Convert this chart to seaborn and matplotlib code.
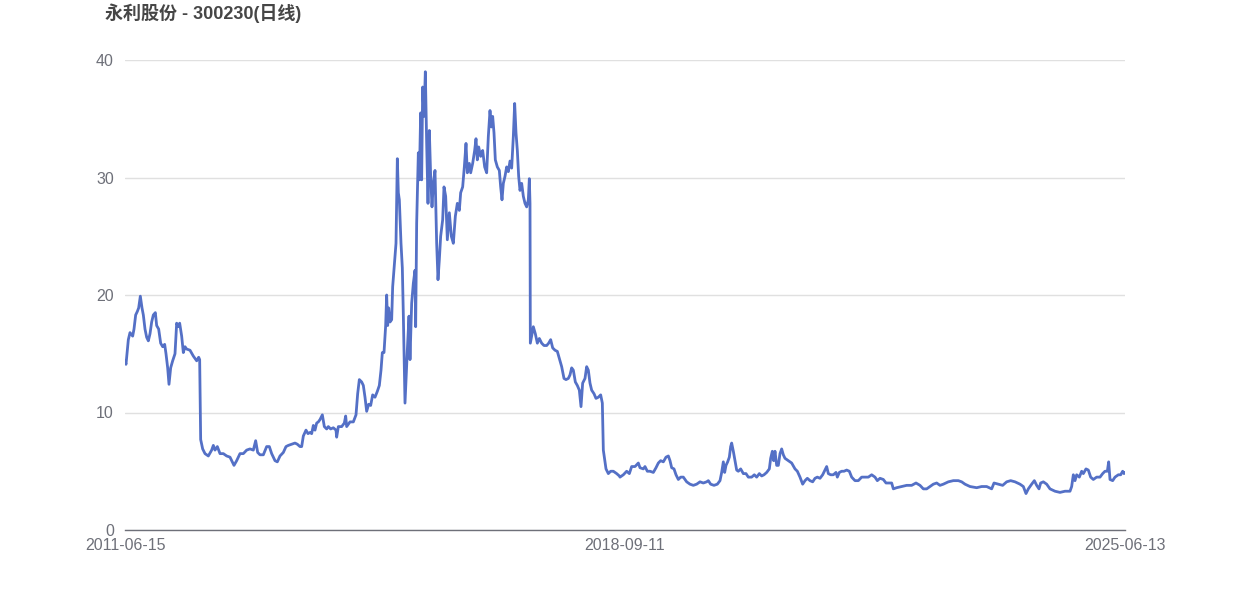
import matplotlib
matplotlib.use("Agg")
import matplotlib.pyplot as plt
import seaborn as sns
import pandas as pd

# ---- data ----
title_text = "永利股份 - 300230(日线)"
tick_labels = ["2011-06-15", "2018-09-11", "2025-06-13"]
total_sessions = 3000

session_idx = [
    0, 3, 10, 15, 23, 27, 32, 37, 41, 46, 51, 55, 60, 65, 70, 75, 80, 85, 91, 95,
    101, 107, 113, 119, 123, 128, 132, 137, 143, 150, 155, 160, 164, 170, 175, 180, 185, 195, 205, 215,
    221, 224, 227, 233, 240, 250, 260, 265, 270, 277, 285, 295, 305, 315, 327, 335, 345, 355, 365, 375,
    385, 392, 398, 405, 415, 425, 433, 440, 450, 457, 465, 475, 483, 490, 500, 510, 517, 525, 530, 535,
    543, 549, 555, 560, 565, 570, 575, 580, 585, 592, 598, 605, 610, 617, 625, 633, 635, 640, 650, 658,
    662, 665, 675, 685, 693, 698, 703, 710, 715, 720, 725, 731, 737, 743, 750, 757, 763, 768, 772, 777,
    782, 785, 788, 791, 795, 800, 803, 808, 813, 817, 820, 823, 828, 832, 835,
    840, 847, 852, 855, 860, 865, 870, 872, 875, 880, 883, 887, 890, 893, 897, 901, 905, 909, 913, 917,
    921, 925, 930, 935, 939, 943, 947, 953, 957, 962, 967, 973, 979, 985, 991, 997, 1003, 1007, 1013, 1018,
    1023, 1027, 1033, 1037, 1043, 1049, 1053, 1057, 1061, 1067, 1073, 1079, 1085, 1090, 1095, 1099, 1103, 1107, 1111, 1117,
    1123, 1127, 1131, 1135, 1140, 1145, 1150, 1155, 1160, 1165, 1169, 1173, 1177, 1181, 1185, 1190, 1195, 1200, 1205, 1210,
    1213, 1215, 1216, 1220, 1225, 1231, 1237, 1243, 1250, 1257, 1265, 1271, 1277, 1283, 1290, 1297, 1303, 1310, 1317, 1323,
    1330, 1335, 1340, 1345, 1351, 1357, 1363, 1368, 1373, 1380, 1385, 1390, 1395, 1400, 1407, 1413, 1420, 1427, 1432, 1435,
    1438, 1443, 1450, 1457, 1465, 1475, 1483,
    1485, 1495, 1505, 1513, 1520, 1530, 1540, 1545, 1555, 1560, 1567, 1575, 1585, 1593, 1600, 1607, 1615, 1623, 1630, 1635,
    1640, 1647, 1653, 1660, 1667, 1675, 1685, 1695, 1705, 1715, 1725, 1735, 1745, 1750, 1757, 1767, 1777, 1785, 1790, 1795,
    1799, 1803, 1808, 1813, 1817, 1820, 1825, 1830, 1835, 1840, 1847, 1855, 1863, 1870, 1880, 1888, 1895, 1903, 1910, 1917,
    1925, 1933, 1937, 1942, 1946, 1950, 1955, 1960, 1965, 1970, 1975, 1980, 1990, 2000, 2010, 2017, 2025, 2033, 2040, 2047,
    2055, 2063, 2070, 2077, 2085, 2093, 2100, 2105, 2110, 2117, 2125, 2133, 2137, 2143, 2150, 2157, 2165, 2173, 2180, 2190,
    2200, 2210, 2220, 2230, 2240, 2250, 2257, 2265, 2275, 2283,
    2300, 2305, 2315, 2330, 2345, 2360, 2373, 2385, 2395, 2405, 2415, 2425, 2435, 2445, 2455, 2470, 2485, 2500, 2510, 2520,
    2535, 2555, 2570, 2585, 2600, 2607, 2620, 2633, 2645, 2657, 2670, 2685, 2695, 2703, 2710, 2720, 2728, 2735, 2742, 2747,
    2755, 2765, 2775, 2790, 2805, 2820, 2835, 2840, 2845, 2850, 2855, 2863, 2870, 2875, 2883, 2890, 2897, 2905, 2915, 2925,
    2933, 2940, 2947, 2951, 2955, 2963, 2970, 2980, 2987, 2993, 2997, 3000,
]

close = [
    14.4, 14.1, 16.2, 16.8, 16.5, 17.1, 18.3, 18.6, 18.9, 19.9, 18.9, 18.3, 17.1, 16.4, 16.1, 16.7, 17.7, 18.3, 18.5, 17.4,
    17.1, 15.9, 15.6, 15.8, 15.0, 13.8, 12.4, 13.8, 14.4, 15.0, 17.6, 17.3, 17.6, 16.5, 15.1, 15.6, 15.4, 15.3, 14.8, 14.4,
    14.7, 14.5, 7.7, 6.9, 6.5, 6.3, 6.8, 7.2, 6.8, 7.1, 6.5, 6.5, 6.3, 6.2, 5.5, 5.9, 6.5, 6.5, 6.8, 6.9,
    6.8, 7.6, 6.6, 6.4, 6.4, 7.1, 7.1, 6.5, 5.9, 5.8, 6.3, 6.6, 7.1, 7.2, 7.3, 7.4, 7.3, 7.1, 7.1, 8.0,
    8.5, 8.2, 8.3, 8.2, 8.9, 8.5, 9.1, 9.2, 9.4, 9.8, 8.8, 8.6, 8.8, 8.6, 8.7, 8.5, 7.9, 8.8, 8.8, 9.1,
    9.7, 8.8, 9.2, 9.2, 9.8, 11.6, 12.8, 12.6, 12.3, 11.3, 10.1, 10.7, 10.6, 11.5, 11.3, 11.8, 12.3, 13.6, 15.1, 15.1,
    17.4, 20.0, 17.4, 18.9, 17.7, 17.9, 20.7, 22.6, 24.4, 31.6, 28.7, 28.1, 24.4, 22.3, 18.3,
    10.8, 15.3, 18.2, 14.5, 19.3, 21.0, 22.1, 17.3, 26.1, 32.1, 29.8, 35.5, 29.8, 37.7, 35.2, 39.0, 32.9, 27.8, 34.0, 30.1,
    27.5, 29.5, 30.6, 24.4, 21.3, 23.0, 25.0, 26.4, 29.2, 28.4, 24.7, 27.0, 25.0, 24.4, 26.7, 27.8, 27.2, 28.7, 29.2, 30.9,
    32.9, 30.4, 31.2, 30.4, 31.2, 32.3, 33.3, 31.5, 32.6, 31.8, 32.3, 30.9, 30.4, 33.5, 35.7, 34.3, 35.2, 33.8, 31.5, 30.9,
    30.6, 29.2, 28.1, 29.5, 30.1, 30.9, 30.5, 31.4, 30.8, 33.5, 36.3, 33.8, 32.3, 30.1, 28.9, 29.5, 28.4, 27.8, 27.5, 28.1,
    29.9, 27.8, 15.9, 16.5, 17.3, 16.7, 15.9, 16.3, 15.9, 15.7, 15.7, 15.9, 16.2, 15.5, 15.3, 15.2, 14.6, 13.9, 12.9, 12.8,
    12.9, 13.2, 13.8, 13.6, 12.6, 12.3, 11.9, 10.5, 12.5, 12.9, 13.9, 13.6, 12.5, 11.9, 11.6, 11.2, 11.3, 11.5, 10.8, 6.8,
    6.2, 5.2, 4.8, 5.0, 5.0, 4.8, 4.6,
    4.5, 4.7, 5.0, 4.8, 5.4, 5.4, 5.7, 5.3, 5.2, 5.4, 5.0, 5.0, 4.9, 5.3, 5.7, 5.9, 5.8, 6.2, 6.3, 5.9,
    5.3, 5.2, 4.7, 4.3, 4.5, 4.5, 4.1, 3.9, 3.8, 3.9, 4.1, 4.0, 4.1, 4.2, 3.9, 3.8, 3.9, 4.2, 4.9, 5.8,
    4.9, 5.5, 5.8, 6.2, 7.1, 7.4, 6.7, 5.9, 5.1, 5.0, 5.2, 4.8, 4.8, 4.5, 4.5, 4.7, 4.5, 4.8, 4.6, 4.7,
    4.9, 5.2, 6.1, 6.7, 5.9, 6.7, 5.5, 5.5, 6.5, 6.9, 6.4, 6.1, 5.9, 5.7, 5.2, 5.0, 4.5, 3.9, 4.2, 4.4,
    4.2, 4.1, 4.4, 4.5, 4.4, 4.7, 5.1, 5.4, 4.8, 4.7, 4.7, 4.9, 4.5, 4.9, 5.0, 5.0, 5.1, 5.0, 4.5, 4.2,
    4.2, 4.5, 4.5, 4.5, 4.7, 4.5, 4.2, 4.4, 4.3, 4.0,
    4.0, 3.5, 3.6, 3.7, 3.8, 3.8, 4.0, 3.8, 3.5, 3.5, 3.7, 3.9, 4.0, 3.8, 3.9, 4.1, 4.2, 4.2, 4.1, 3.9,
    3.7, 3.6, 3.7, 3.7, 3.5, 4.0, 3.9, 3.8, 4.1, 4.2, 4.1, 3.9, 3.7, 3.1, 3.5, 3.9, 4.2, 3.8, 3.5, 4.0,
    4.1, 3.9, 3.5, 3.3, 3.2, 3.3, 3.3, 3.7, 4.7, 4.2, 4.7, 4.5, 5.0, 4.8, 5.2, 5.1, 4.5, 4.3, 4.5, 4.5,
    4.8, 5.0, 5.0, 5.8, 4.3, 4.2, 4.5, 4.7, 4.7, 5.0, 4.8, 4.9,
]

y_ticks = [0, 10, 20, 30, 40]

# ---- plot ----
sns.set_theme(style="white")
plt.rcParams["font.family"] = ["Liberation Sans", "Noto Sans CJK SC", "DejaVu Sans"]

df = pd.DataFrame({"session": session_idx, "close": close})

fig = plt.figure(figsize=(12.5, 6), dpi=100)
ax = fig.add_axes([0.1, 1 - 530 / 600, 0.8, 470 / 600])

sns.lineplot(data=df, x="session", y="close", ax=ax, color="#5470c6", linewidth=2.0)

ax.set_xlim(0, total_sessions)
ax.set_ylim(0, 40)
ax.set_yticks(y_ticks)
ax.set_yticklabels([str(t) for t in y_ticks])
ax.set_xticks([0, total_sessions / 2, total_sessions])
ax.set_xticklabels(tick_labels)
ax.set_xlabel("")
ax.set_ylabel("")

ax.grid(axis="y", color="#e0e0e0", linewidth=1)
ax.grid(axis="x", visible=False)
ax.set_axisbelow(True)
for side in ["top", "right", "left"]:
    ax.spines[side].set_visible(False)
ax.spines["bottom"].set_color("#6e7079")
ax.spines["bottom"].set_linewidth(1)

ax.tick_params(axis="both", length=0, colors="#6e7079", labelsize=11.5)
ax.tick_params(axis="y", pad=8)
ax.tick_params(axis="x", pad=6)

fig.text(105 / 1250, 1 - 13 / 600, title_text, ha="left", va="center",
         fontsize=13, fontweight="bold", color="#464646")

fig.savefig("out.png", dpi=100, facecolor="white")
